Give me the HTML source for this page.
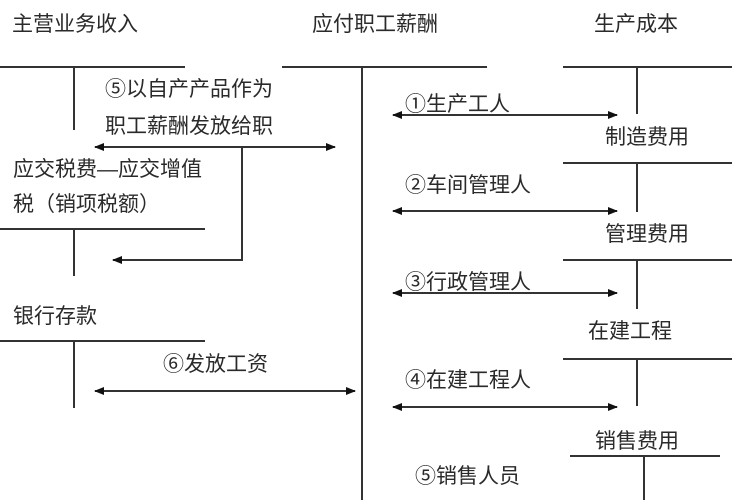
<!DOCTYPE html><html><head><meta charset="utf-8"><style>
body{margin:0;width:750px;height:500px;background:#fff;overflow:hidden;position:relative;font-family:"Liberation Sans","Noto Sans CJK SC",sans-serif;color:#2a2a2a}
.t{position:absolute;font-size:21px;line-height:26px;white-space:nowrap}
svg{position:absolute;left:0;top:0}
</style></head><body>
<svg width="750" height="500"><defs><marker id="a" markerWidth="10" markerHeight="8" refX="9" refY="4" orient="auto-start-reverse" markerUnits="userSpaceOnUse"><path d="M0,0L10,4L0,8z" fill="#111"/></marker></defs>
<g stroke="#333" stroke-width="2" fill="none">
<path d="M0,67H185M74,67V130M282,67H487M362,67V500M563,67H732M637,67V114"/>
<path d="M0,229H205M74,229V276M0,341H205M74,341V408"/>
<path d="M563,163H732M637,163V212M563,260H732M637,260V309M563,359H732M637,359V406M570,456H720M644,456V500"/>
<path d="M95,147H335" marker-start="url(#a)" marker-end="url(#a)"/>
<path d="M242,147V260H113" marker-end="url(#a)"/>
<path d="M95,391H355" marker-start="url(#a)" marker-end="url(#a)"/>
<path d="M393,115H617" marker-start="url(#a)" marker-end="url(#a)"/>
<path d="M393,211H617" marker-start="url(#a)" marker-end="url(#a)"/>
<path d="M393,293H617" marker-start="url(#a)" marker-end="url(#a)"/>
<path d="M393,407H617" marker-start="url(#a)" marker-end="url(#a)"/>
</g></svg>
<div class="t" style="left:12px;top:12px">主营业务收入</div>
<div class="t" style="left:312px;top:12px">应付职工薪酬</div>
<div class="t" style="left:594px;top:12px">生产成本</div>
<div class="t" style="left:105px;top:77px">⑤以自产产品作为</div>
<div class="t" style="left:105px;top:114px">职工薪酬发放给职</div>
<div class="t" style="left:13px;top:157px">应交税费—应交增值</div>
<div class="t" style="left:13px;top:192px">税（销项税额）</div>
<div class="t" style="left:13px;top:304px">银行存款</div>
<div class="t" style="left:163px;top:352px">⑥发放工资</div>
<div class="t" style="left:405px;top:92px">①生产工人</div>
<div class="t" style="left:605px;top:125px">制造费用</div>
<div class="t" style="left:405px;top:173px">②车间管理人</div>
<div class="t" style="left:605px;top:222px">管理费用</div>
<div class="t" style="left:405px;top:270px">③行政管理人</div>
<div class="t" style="left:588px;top:319px">在建工程</div>
<div class="t" style="left:405px;top:368px">④在建工程人</div>
<div class="t" style="left:595px;top:429px">销售费用</div>
<div class="t" style="left:415px;top:464px">⑤销售人员</div>
</body></html>
